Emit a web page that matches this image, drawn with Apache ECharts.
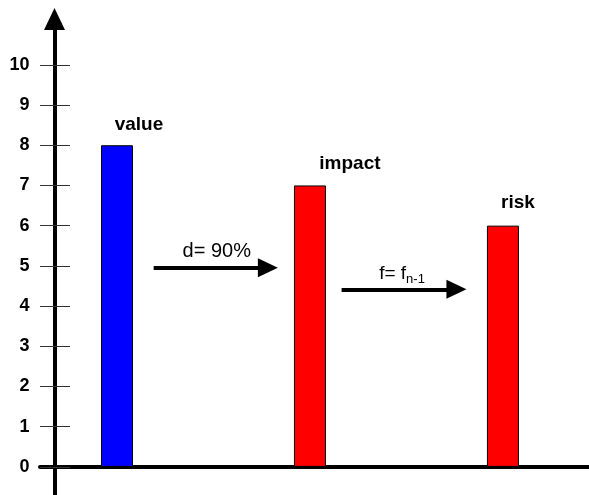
<!DOCTYPE html>
<html>
<head>
<meta charset="utf-8">
<script src="https://cdn.jsdelivr.net/npm/echarts@6/dist/echarts.min.js"></script>
<style>
  html, body { margin: 0; padding: 0; background: #fff; }
  #chart { width: 589px; height: 495px; }
</style>
</head>
<body>
<div id="chart"></div>
<script>
// data
const categories = ['value', 'impact', 'risk'];
const values = [8, 7, 6];
const yTicks = [0, 1, 2, 3, 4, 5, 6, 7, 8, 9, 10];
const barColors = ['#0000ff', '#ff0000', '#ff0000'];
const labelShift = [[22, -11], [40, -12], [15, -13]];

const font = '"Liberation Sans", Arial, sans-serif';

let myChart = echarts.init(document.getElementById('chart'));

let barData = categories.map((name, i) => ({
    value: [i, values[i]],
    itemStyle: { color: barColors[i] },
    label: { offset: labelShift[i] }
}));

let option = {
    animation: false,
    grid: { left: 40, right: 0, top: 19, bottom: 0 },
    xAxis: {
        type: 'value',
        min: -0.399,
        max: 2.446,
        axisLine: { onZero: true, lineStyle: { color: '#000', width: 4 } },
        axisTick: { show: false },
        axisLabel: { show: false },
        splitLine: { show: false }
    },
    yAxis: [
        {
            type: 'value',
            position: 'left',
            min: -0.7,
            max: 11.14,
            offset: -14.5,
            axisLine: {
                show: true,
                onZero: false,
                symbol: ['none', 'triangle'],
                symbolSize: [21, 22],
                lineStyle: { color: '#000', width: 4 }
            },
            axisTick: { show: false },
            axisLabel: {
                customValues: yTicks,
                margin: 25,
                color: '#000',
                fontSize: 18,
                fontWeight: 'bold',
                fontFamily: font
            },
            splitLine: { show: false }
        },
        {
            // the tick marks cross the axis, so a second axis draws them
            type: 'value',
            position: 'left',
            offset: 0,
            min: -0.7,
            max: 11.14,
            axisLine: { show: false, onZero: false },
            axisTick: {
                show: true,
                inside: true,
                length: 30,
                customValues: yTicks,
                lineStyle: { color: '#333', width: 1 }
            },
            axisLabel: { show: false },
            splitLine: { show: false }
        }
    ],
    series: [
        {
            type: 'bar',
            barWidth: 32,
            data: barData,
            itemStyle: { borderColor: '#000', borderWidth: 1 },
            label: {
                show: true,
                position: 'top',
                distance: 0,
                formatter: p => categories[p.dataIndex],
                color: '#000',
                fontSize: 19,
                fontWeight: 'bold',
                fontFamily: font
            },
            markLine: {
                silent: true,
                symbol: ['none', 'triangle'],
                symbolSize: [19, 20],
                lineStyle: { color: '#000', width: 4, type: 'solid' },
                label: {
                    show: true,
                    position: 'middle',
                    distance: 6,
                    color: '#000',
                    fontSize: 20,
                    fontFamily: font,
                    rich: {
                        a: { fontSize: 19, lineHeight: 19, verticalAlign: 'top', fontFamily: font, color: '#000' },
                        b: { fontSize: 13, lineHeight: 13, verticalAlign: 'top', padding: [9, 0, 0, 0], fontFamily: font, color: '#000' }
                    }
                },
                data: [
                    [{ coord: [0.19, 4.95], label: { formatter: 'd= 90%', padding: [0, 0, 0, 12] } }, { coord: [0.782, 4.95] }],
                    [{ coord: [1.164, 4.415], label: { formatter: '{a|f= f}{b|n-1}', padding: [0, 0, 0, 6] } }, { coord: [1.759, 4.415] }]
                ]
            }
        }
    ]
};

myChart.setOption(option);
</script>
</body>
</html>
